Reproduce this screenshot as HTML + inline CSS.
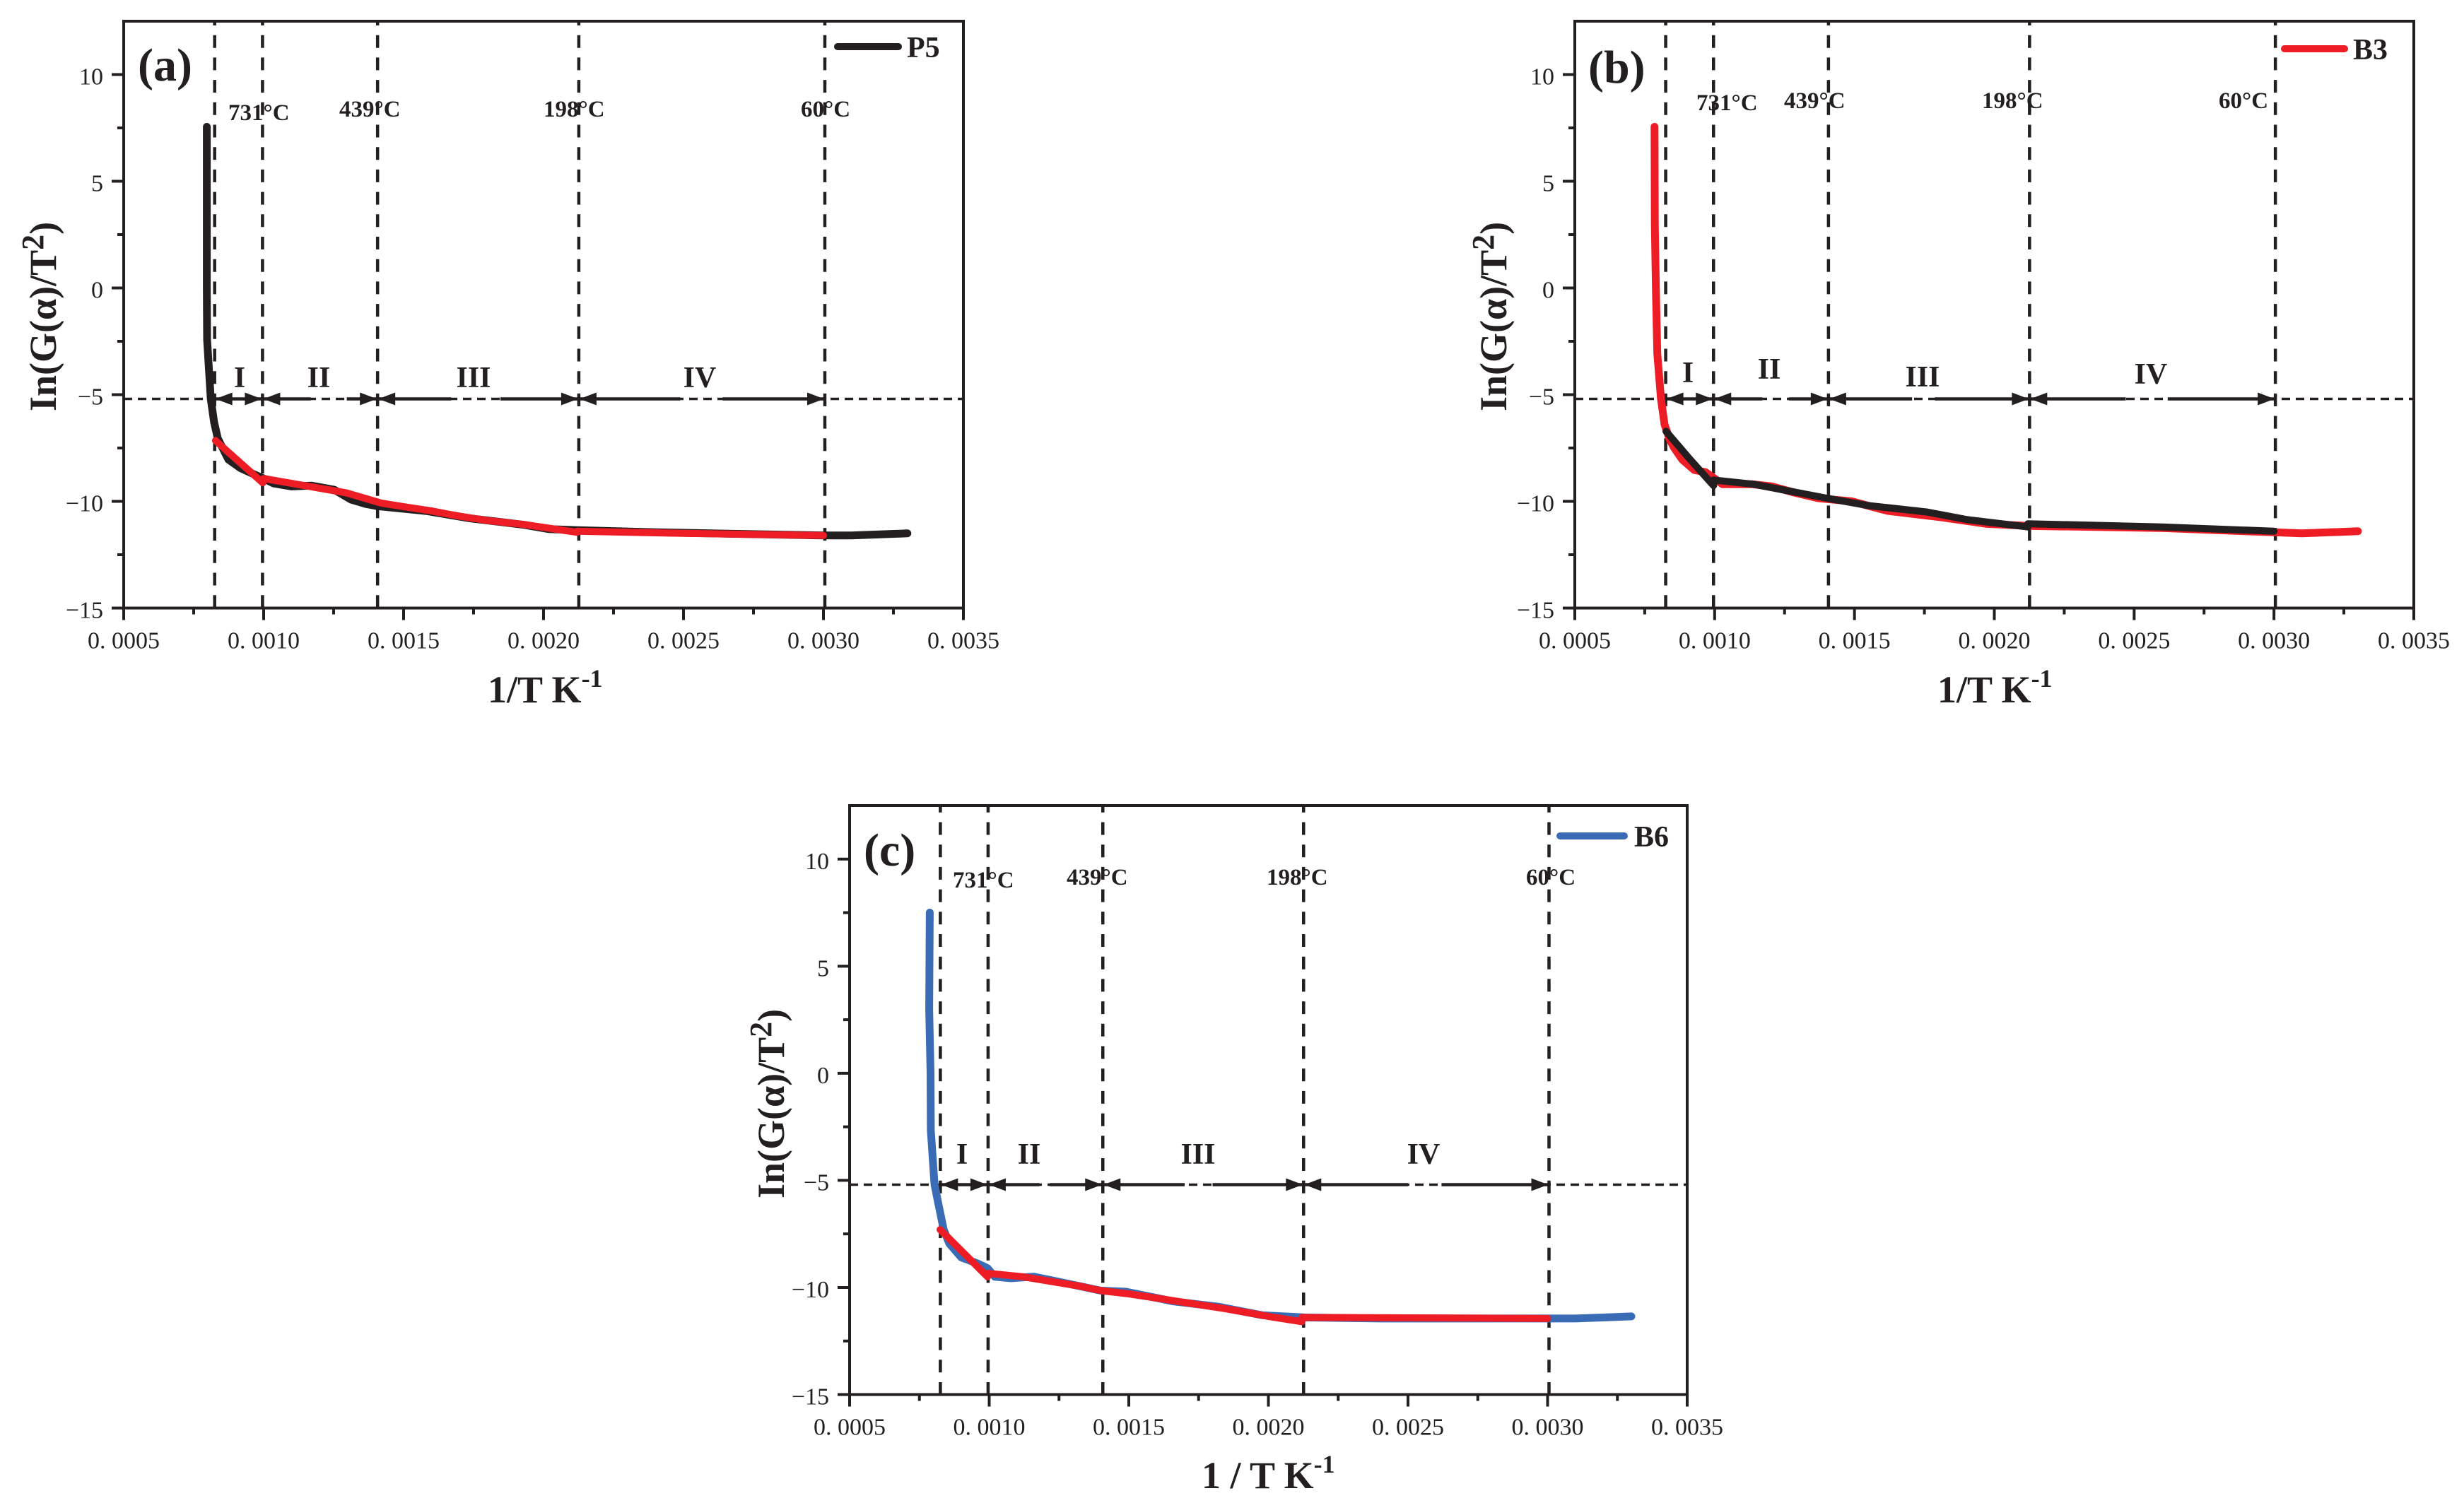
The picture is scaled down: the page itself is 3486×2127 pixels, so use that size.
<!DOCTYPE html>
<html lang="en">
<head>
<meta charset="utf-8">
<title>ln(G(α)/T²) versus 1/T for P5, B3 and B6</title>
<style>
html,body{margin:0;padding:0;background:#fff;}
svg{display:block;}
text{font-family:"Liberation Serif","Noto Serif CJK SC",serif;fill:#231f20;}
.tick{font-size:34px;}
.title{font-size:54px;font-weight:700;}
.letter{font-size:66px;font-weight:700;}
.temp{font-size:33px;font-weight:700;}
.roman{font-size:42px;font-weight:700;text-anchor:middle;}
.legend{font-size:42px;font-weight:700;}
</style>
</head>
<body>
<svg id="figure" xmlns="http://www.w3.org/2000/svg" width="3486" height="2127" viewBox="0 0 3486 2127">
<rect x="0" y="0" width="3486" height="2127" fill="#ffffff"/>

<g>
  <g id="marks-a"></g>
  <text class="letter" x="195" y="114">(a)</text>
  <line x1="1185" y1="66" x2="1271" y2="66" stroke="#231f20" stroke-width="10" stroke-linecap="round"/>
  <text class="legend" x="1283" y="81">P5</text>
  <text class="temp" x="323" y="170">731°C</text>
  <text class="temp" x="480" y="165">439°C</text>
  <text class="temp" x="769" y="165">198°C</text>
  <text class="temp" x="1133" y="165">60°C</text>
  <text class="roman" x="339" y="548">I</text>
  <text class="roman" x="451" y="548">II</text>
  <text class="roman" x="670" y="548">III</text>
  <text class="roman" x="990" y="548">IV</text>
  <text class="title" transform="translate(79 582) rotate(-90)">In(G(α)/T<tspan font-size="44" dy="-18">2</tspan><tspan dy="18">)</tspan></text>
  <text class="title" x="690" y="994">1/T K<tspan font-size="36" dy="-22">-1</tspan></text>
</g>

<g>
  <g id="marks-b"></g>
  <text class="letter" x="2247" y="117">(b)</text>
  <line x1="3232" y1="69" x2="3317" y2="69" stroke="#ee1c25" stroke-width="10" stroke-linecap="round"/>
  <text class="legend" x="3329" y="84">B3</text>
  <text class="temp" x="2400" y="156">731°C</text>
  <text class="temp" x="2524" y="153">439°C</text>
  <text class="temp" x="2804" y="153">198°C</text>
  <text class="temp" x="3139" y="153">60°C</text>
  <text class="roman" x="2388" y="541">I</text>
  <text class="roman" x="2503" y="536">II</text>
  <text class="roman" x="2720" y="547">III</text>
  <text class="roman" x="3043" y="543">IV</text>
  <text class="title" transform="translate(2131 582) rotate(-90)">In(G(α)/T<tspan font-size="44" dy="-18">2</tspan><tspan dy="18">)</tspan></text>
  <text class="title" x="2741" y="994">1/T K<tspan font-size="36" dy="-22">-1</tspan></text>
</g>

<g>
  <g id="marks-c"></g>
  <text class="letter" x="1222" y="1225">(c)</text>
  <line x1="2207" y1="1183" x2="2298" y2="1183" stroke="#3a6cb5" stroke-width="10" stroke-linecap="round"/>
  <text class="legend" x="2312" y="1198">B6</text>
  <text class="temp" x="1348" y="1256">731°C</text>
  <text class="temp" x="1509" y="1252">439°C</text>
  <text class="temp" x="1792" y="1252">198°C</text>
  <text class="temp" x="2159" y="1252">60°C</text>
  <text class="roman" x="1361" y="1647">I</text>
  <text class="roman" x="1456" y="1647">II</text>
  <text class="roman" x="1695" y="1647">III</text>
  <text class="roman" x="2014" y="1647">IV</text>
  <text class="title" transform="translate(1109 1696) rotate(-90)">In(G(α)/T<tspan font-size="44" dy="-18">2</tspan><tspan dy="18">)</tspan></text>
  <text class="title" x="1700" y="2106">1 / T K<tspan font-size="36" dy="-22">-1</tspan></text>
</g>
</svg>

<script>
const xTickValues = [0.0005, 0.0010, 0.0015, 0.0020, 0.0025, 0.0030, 0.0035];
const xTickLabels = ['0. 0005', '0. 0010', '0. 0015', '0. 0020', '0. 0025', '0. 0030', '0. 0035'];
const xMinorValues = [0.00075, 0.00125, 0.00175, 0.00225, 0.00275, 0.00325];
const yTickValues = [-15, -10, -5, 0, 5, 10];
const yTickLabels = ['−15', '−10', '−5', '0', '5', '10'];
const yMinorValues = [-12.5, -7.5, -2.5, 2.5, 7.5];
const xDomain = [0.0005, 0.0035];
const yDomain = [-15, 12.5];
const stageBoundaries = [0.000825, 0.000996, 0.001407, 0.002126, 0.003005];
const stageLevel = [-5.2];

const gapStartA = [0.001168, 0.00167, 0.002488];
const gapEndA = [0.001297, 0.001846, 0.00264];
const gapStartB = [0.00117, 0.001706, 0.00247];
const gapEndB = [0.001266, 0.001787, 0.00262];
const gapStartC = [0.00118, 0.0017, 0.0025];
const gapEndC = [0.001217, 0.0018, 0.00262];

const p5X = [0.000797, 0.000797, 0.000797, 0.000798, 0.000811, 0.000823, 0.000836, 0.000874, 0.000917, 0.00096, 0.0010, 0.001035, 0.0011, 0.00117, 0.001253, 0.001313, 0.001364, 0.001404, 0.00158, 0.00174, 0.00193, 0.00202, 0.00212, 0.0024, 0.0030, 0.0031, 0.0033];
const p5Y = [7.55, 3, 0, -2.42, -5.2, -6.29, -7.05, -8.04, -8.44, -8.7, -8.93, -9.16, -9.3, -9.26, -9.46, -9.92, -10.12, -10.22, -10.45, -10.8, -11.1, -11.3, -11.35, -11.45, -11.6, -11.6, -11.5];
const p5FitX = [0.000828, 0.000874, 0.000997, 0.0010, 0.001295, 0.00142, 0.0015, 0.0016, 0.0017, 0.0018, 0.001927, 0.00212, 0.00212, 0.0025, 0.0030];
const p5FitY = [-7.15, -7.7, -9.13, -8.93, -9.6, -10.08, -10.25, -10.45, -10.7, -10.9, -11.08, -11.45, -11.4, -11.5, -11.6];

const b3X = [0.000785, 0.000786, 0.00079, 0.000795, 0.000808, 0.000821, 0.000838, 0.000854, 0.000884, 0.000927, 0.000967, 0.001003, 0.001028, 0.001136, 0.001205, 0.001288, 0.00137, 0.00149, 0.00162, 0.00181, 0.00197, 0.00212, 0.0026, 0.0030, 0.0031, 0.0033];
const b3Y = [7.55, 3, 0, -3.08, -5.2, -6.4, -7.05, -7.47, -8.04, -8.53, -8.63, -8.96, -9.2, -9.2, -9.3, -9.6, -9.85, -10.0, -10.45, -10.75, -11.05, -11.15, -11.25, -11.45, -11.5, -11.4];
const b3FitX = [0.000826, 0.00091, 0.000996, 0.000996, 0.00114, 0.0013, 0.0014, 0.00155, 0.00176, 0.0019, 0.00212, 0.00212, 0.0026, 0.0030];
const b3FitY = [-6.72, -8.0, -9.26, -9.0, -9.2, -9.6, -9.85, -10.2, -10.5, -10.85, -11.2, -11.05, -11.2, -11.4];

const b6X = [0.000787, 0.000785, 0.00079, 0.000791, 0.000804, 0.000816, 0.000837, 0.000857, 0.0009, 0.000958, 0.000994, 0.00102, 0.001077, 0.00116, 0.001237, 0.0014, 0.00149, 0.00166, 0.00182, 0.00198, 0.00213, 0.0024, 0.0030, 0.0031, 0.0033];
const b6Y = [7.5, 3, 0, -2.67, -5.18, -5.97, -7.3, -7.95, -8.6, -8.88, -9.1, -9.5, -9.57, -9.5, -9.7, -10.15, -10.2, -10.65, -10.9, -11.3, -11.4, -11.45, -11.45, -11.45, -11.35];
const b6FitX = [0.000824, 0.000994, 0.000996, 0.00112, 0.00132, 0.0014, 0.0015, 0.0017, 0.00185, 0.0020, 0.00212, 0.00212, 0.0025, 0.0030];
const b6FitY = [-7.3, -9.5, -9.34, -9.5, -9.93, -10.15, -10.3, -10.7, -11.0, -11.35, -11.6, -11.4, -11.42, -11.45];

const INK = '#231f20';
const RED = '#ee1c25';
const BLUE = '#3a6cb5';
const SVGNS = 'http://www.w3.org/2000/svg';

function make(tag, parent, props) {
  const node = document.createElementNS(SVGNS, tag);
  Object.keys(props).forEach(function (k) { node.setAttribute(k, props[k]); });
  parent.appendChild(node);
  return node;
}

function drawPanel(id, box, curveX, curveY, curveColor, fitX, fitY, fitColor, gapStart, gapEnd) {
  const g = document.getElementById(id);
  const sx = function (v) { return box.left + (v - xDomain[0]) / (xDomain[1] - xDomain[0]) * (box.right - box.left); };
  const sy = function (v) { return box.bottom - (v - yDomain[0]) / (yDomain[1] - yDomain[0]) * (box.bottom - box.top); };

  // horizontal dashed reference level
  const hline = make('line', g, {x1: box.left, x2: box.right, y1: sy(stageLevel[0]), y2: sy(stageLevel[0]), stroke: INK, 'stroke-width': 3.5, 'stroke-dasharray': '12 8'});
  
  

  // vertical stage boundaries
  stageBoundaries.forEach(function (b) {
    const v = make('line', g, {x1: sx(b), x2: sx(b), y1: box.top, y2: box.bottom, stroke: INK, 'stroke-width': 4.5, 'stroke-dasharray': '18 13.7', 'stroke-dashoffset': box.dash});
    
    
  });

  // stage arrows
  const ay = sy(stageLevel[0]);
  for (let i = 0; i < stageBoundaries.length - 1; i++) {
    const x0 = sx(stageBoundaries[i]);
    const x1 = sx(stageBoundaries[i + 1]);
    const gi = i - 1;
    const pieces = gi >= 0
      ? [[x0, sx(gapStart[gi])], [sx(gapEnd[gi]), x1]]
      : [[x0, x1]];
    pieces.forEach(function (p) {
      const seg = make('line', g, {x1: p[0], x2: p[1], y1: ay, y2: ay, stroke: INK, 'stroke-width': 4.5});
      
      
    });
    const headL = make('polygon', g, {points: (x0 + 1) + ',' + ay + ' ' + (x0 + 25) + ',' + (ay - 9) + ' ' + (x0 + 25) + ',' + (ay + 9), fill: INK});
    
    
    const headR = make('polygon', g, {points: (x1 - 1) + ',' + ay + ' ' + (x1 - 25) + ',' + (ay - 9) + ' ' + (x1 - 25) + ',' + (ay + 9), fill: INK});
    
    
  }

  // curves
  const mainPts = curveX.map(function (x, i) { return sx(x).toFixed(1) + ',' + sy(curveY[i]).toFixed(1); }).join(' ');
  const main = make('polyline', g, {points: mainPts, fill: 'none', stroke: curveColor, 'stroke-width': 11, 'stroke-linejoin': 'round', 'stroke-linecap': 'round'});
  
  
  const fitPts = fitX.map(function (x, i) { return sx(x).toFixed(1) + ',' + sy(fitY[i]).toFixed(1); }).join(' ');
  const fit = make('polyline', g, {points: fitPts, fill: 'none', stroke: fitColor, 'stroke-width': 10, 'stroke-linejoin': 'round', 'stroke-linecap': 'round'});
  
  

  // frame
  const frame = make('rect', g, {x: box.left, y: box.top, width: box.right - box.left, height: box.bottom - box.top, fill: 'none', stroke: INK, 'stroke-width': 4});
  
  

  // x ticks
  xTickValues.forEach(function (v, i) {
    const t = make('line', g, {x1: sx(v), x2: sx(v), y1: box.bottom, y2: box.bottom + 17, stroke: INK, 'stroke-width': 4});
    
    
    const lab = make('text', g, {x: sx(v), y: box.bottom + 57, 'text-anchor': 'middle', class: 'tick'});
    lab.textContent = xTickLabels[i];
    
    
  });
  xMinorValues.forEach(function (v) {
    const t = make('line', g, {x1: sx(v), x2: sx(v), y1: box.bottom, y2: box.bottom + 9, stroke: INK, 'stroke-width': 4});
    
    
  });

  // y ticks
  yTickValues.forEach(function (v, i) {
    const t = make('line', g, {x1: box.left - 17, x2: box.left, y1: sy(v), y2: sy(v), stroke: INK, 'stroke-width': 4});
    
    
    const lab = make('text', g, {x: box.left - 29, y: sy(v) + 14, 'text-anchor': 'end', class: 'tick'});
    lab.textContent = yTickLabels[i];
    
    
  });
  yMinorValues.forEach(function (v) {
    const t = make('line', g, {x1: box.left - 9, x2: box.left, y1: sy(v), y2: sy(v), stroke: INK, 'stroke-width': 4});
    
    
  });
}

drawPanel('marks-a', {left: 175, right: 1363, top: 30, bottom: 860.5, dash: 12}, p5X, p5Y, INK, p5FitX, p5FitY, RED, gapStartA, gapEndA);
drawPanel('marks-b', {left: 2228, right: 3415, top: 30, bottom: 860.5, dash: 12}, b3X, b3Y, RED, b3FitX, b3FitY, INK, gapStartB, gapEndB);
drawPanel('marks-c', {left: 1202, right: 2387, top: 1140, bottom: 1973.5, dash: 8.2}, b6X, b6Y, BLUE, b6FitX, b6FitY, RED, gapStartC, gapEndC);
</script>
</body>
</html>
